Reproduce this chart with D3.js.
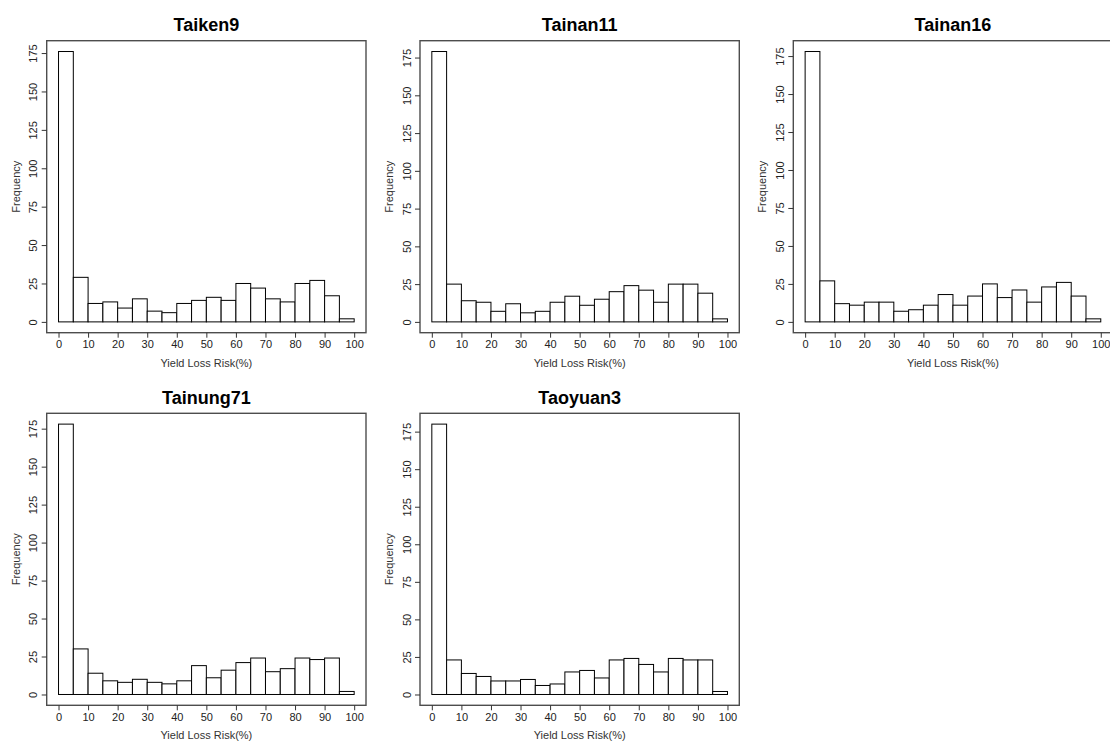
<!DOCTYPE html>
<html>
<head>
<meta charset="utf-8">
<script src="https://cdn.jsdelivr.net/npm/d3@7"></script>
<style>
  body { margin: 0; background: #fff; }
  svg { font-family: "Liberation Sans", Arial, sans-serif; }
</style>
</head>
<body>
<div class="board"></div>
<script>
var width = 1110;
var height = 742;

// bin counts, 5% wide bins from 0 to 100
var binEdges = [0, 5, 10, 15, 20, 25, 30, 35, 40, 45, 50, 55, 60, 65, 70, 75, 80, 85, 90, 95, 100];
var taiken9   = [176, 29, 12, 13, 9, 15, 7, 6, 12, 14, 16, 14, 25, 22, 15, 13, 25, 27, 17, 2];
var tainan11  = [179, 25, 14, 13, 7, 12, 6, 7, 13, 17, 11, 15, 20, 24, 21, 13, 25, 25, 19, 2];
var tainan16  = [178, 27, 12, 11, 13, 13, 7, 8, 11, 18, 11, 17, 25, 16, 21, 13, 23, 26, 17, 2];
var tainung71 = [178, 30, 14, 9, 8, 10, 8, 7, 9, 19, 11, 16, 21, 24, 15, 17, 24, 23, 24, 2];
var taoyuan3  = [180, 23, 14, 12, 9, 9, 10, 6, 7, 15, 16, 11, 23, 24, 20, 15, 24, 23, 23, 2];

var names = ["Taiken9", "Tainan11", "Tainan16", "Tainung71", "Taoyuan3"];
var series = [taiken9, tainan11, tainan16, tainung71, taoyuan3];
var xTicks = [0, 10, 20, 30, 40, 50, 60, 70, 80, 90, 100];
var yTicks = [0, 25, 50, 75, 100, 125, 150, 175];

var colLeft = [46.7, 420, 793.3];
var rowTop = [40.7, 413.3];
var boxW = 319.3;
var boxH = 292;

var svg = d3.select(".board").append("svg")
  .attr("width", width)
  .attr("height", height);

var drawPanel = function(name, counts, left, top) {
  var g = svg.append("g").attr("transform", "translate(" + left + "," + top + ")");
  var maxC = d3.max(counts);

  // R style 4% padding on both ends
  var x = d3.scaleLinear().domain([-4, 104]).range([0, boxW]);
  var y = d3.scaleLinear().domain([-0.04 * maxC, 1.04 * maxC]).range([boxH, 0]);

  g.selectAll("rect.bar").data(counts).enter().append("rect")
    .attr("class", "bar")
    .attr("x", function(d, i) { return x(binEdges[i]); })
    .attr("y", function(d) { return y(d); })
    .attr("width", function(d, i) { return x(binEdges[i + 1]) - x(binEdges[i]); })
    .attr("height", function(d) { return y(0) - y(d); })
    .attr("fill", "#fff")
    .attr("stroke", "#000")
    .attr("stroke-width", 1);

  g.append("rect")
    .attr("width", boxW)
    .attr("height", boxH)
    .attr("fill", "none")
    .attr("stroke", "#4d4d4d")
    .attr("stroke-width", 1.4);

  var xAxis = g.append("g")
    .attr("transform", "translate(0," + boxH + ")")
    .call(d3.axisBottom(x).tickValues(xTicks).tickSize(5).tickPadding(3));
  xAxis.select(".domain").remove();
  xAxis.selectAll("line").attr("stroke", "#333");
  xAxis.selectAll("text").attr("font-size", 11).attr("fill", "#222")
    .attr("font-family", "Liberation Sans, Arial, sans-serif");

  var yAxis = g.append("g")
    .call(d3.axisLeft(y).tickValues(yTicks).tickSize(5).tickFormat(d3.format("d")));
  yAxis.select(".domain").remove();
  yAxis.selectAll("line").attr("stroke", "#333");
  yAxis.selectAll("text")
    .attr("font-size", 11).attr("fill", "#222")
    .attr("font-family", "Liberation Sans, Arial, sans-serif")
    .attr("text-anchor", "middle")
    .attr("x", 0).attr("dy", 0)
    .attr("transform", "translate(-13.5,0) rotate(-90)")
    .attr("y", 0)
    .attr("dominant-baseline", "central");

  g.append("text")
    .attr("x", boxW / 2)
    .attr("y", -9.5)
    .attr("text-anchor", "middle")
    .attr("font-size", 18)
    .attr("font-weight", "bold")
    .attr("fill", "#000")
    .text(name);

  g.append("text")
    .attr("x", boxW / 2)
    .attr("y", boxH + 34)
    .attr("text-anchor", "middle")
    .attr("font-size", 11)
    .attr("fill", "#333")
    .text("Yield Loss Risk(%)");

  g.append("text")
    .attr("transform", "translate(-27," + (boxH / 2) + ") rotate(-90)")
    .attr("text-anchor", "middle")
    .attr("font-size", 11)
    .attr("fill", "#333")
    .text("Frequency");
};

for (var i = 0; i < series.length; i++) {
  drawPanel(names[i], series[i], colLeft[i % 3], rowTop[Math.floor(i / 3)]);
}
</script>
</body>
</html>
